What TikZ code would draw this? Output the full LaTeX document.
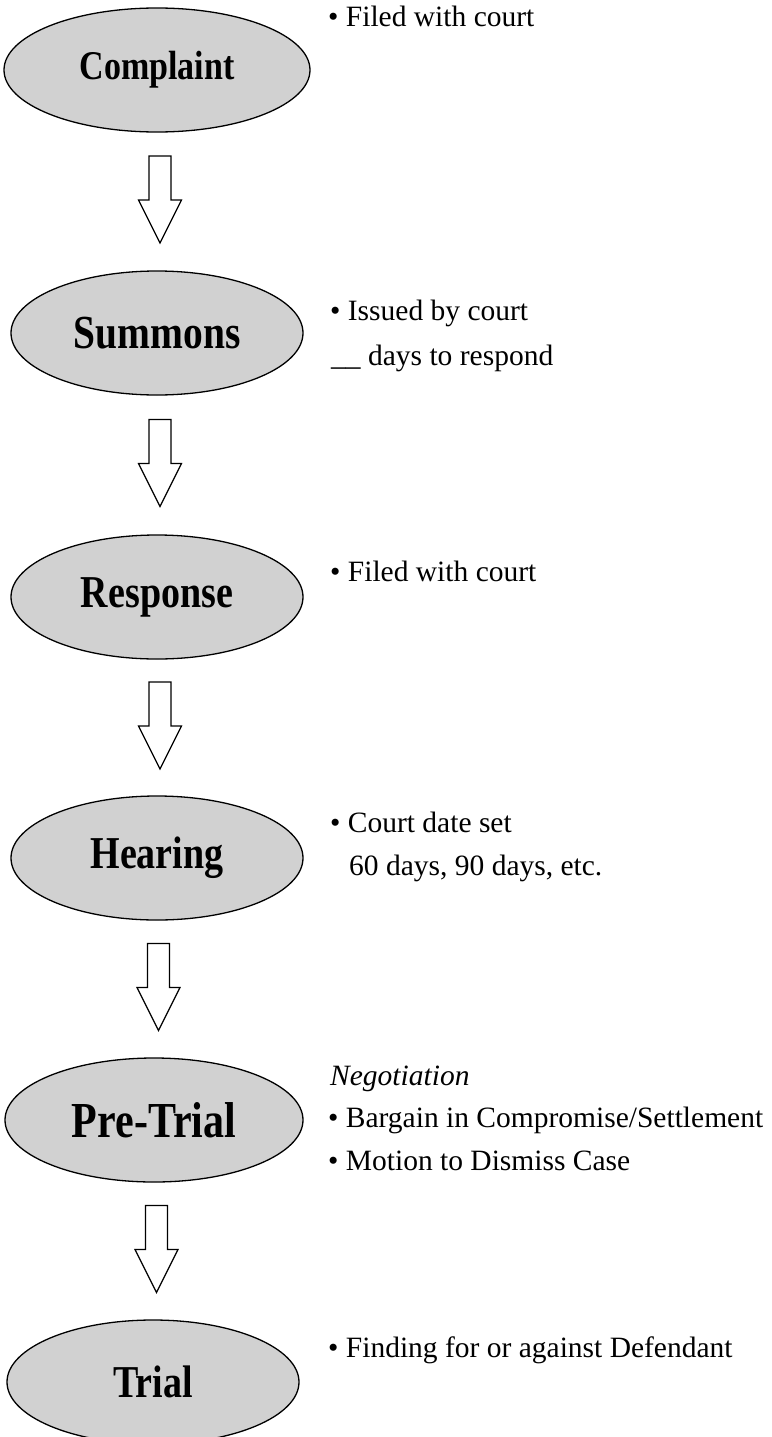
\documentclass[tikz,border=0pt]{standalone}
\usepackage{fontspec}
\usepackage{graphicx}
\setmainfont{Liberation Serif}
\usetikzlibrary{shapes.geometric,calc}
\newcommand\blockarrowat[1]{%
  \draw[blockarrow] ($(#1)+(-11,-43.5)$) -- ++(22,0) -- ++(0,44) -- ++(10.5,0)
    -- ($(#1)+(0,43.5)$) -- ($(#1)+(-21.5,0.5)$) -- ++(10.5,0) -- cycle;}
\newcommand\tallname[1]{\scalebox{1}[1.2]{#1}}
\begin{document}
\begin{tikzpicture}[x=1pt,y=-1pt,
  stage/.style={ellipse, draw=black, line width=1.3pt, fill=black!18,
    minimum width=292pt, minimum height=124pt, inner sep=0pt,
    font=\fontsize{38}{44}\selectfont\bfseries},
  note/.style={anchor=base west, inner sep=0pt, font=\fontsize{29.5}{34}\selectfont},
  blockarrow/.style={draw=black, line width=1.2pt, fill=white, line join=miter}]
\useasboundingbox (0,0) rectangle (771,1437);

\node[stage, minimum width=306pt, font=\fontsize{34}{40}\selectfont\bfseries]
                         (complaint) at (157,70)   {\tallname{Complaint}};
\node[stage, font=\fontsize{39.5}{46}\selectfont\bfseries]
                         (summons)   at (157,333)  {\tallname{Summons}};
\node[stage] (response)  at (157,597)  {\tallname{Response}};
\node[stage] (hearing)   at (157,858)  {\tallname{Hearing}};
\node[stage, minimum width=298pt, font=\fontsize{42}{48}\selectfont\bfseries]
                         (pretrial)  at (154,1120) {\tallname{Pre-Trial}};
\node[stage] (trial)     at (153,1382) {\tallname{Trial}};

\foreach \a/\b/\n in {complaint/summons/1, summons/response/2, response/hearing/3,
                      hearing/pretrial/4, pretrial/trial/5}{
  \coordinate (arr\n) at ($(\a.south)!0.5!(\b.north)+(3,-2)$);
  \blockarrowat{arr\n}
}

\node[note] (n1)  at (328,27)   {\textbullet\ Filed with court};
\node[note] (n2a) at (330,320)  {\textbullet\ Issued by court};
\node[note] (n2b) at (331,365)  {\_\_\ days to respond};
\node[note] (n3)  at (330,581)  {\textbullet\ Filed with court};
\node[note] (n4a) at (330,832)  {\textbullet\ Court date set};
\node[note] (n4b) at (349,875)  {60 days, 90 days, etc.};
\node[note] (n5a) at (330,1085) {\itshape Negotiation};
\node[note] (n5b) at (328,1127) {\textbullet\ Bargain in Compromise/Settlement};
\node[note] (n5c) at (328,1170) {\textbullet\ Motion to Dismiss Case};
\node[note] (n6)  at (328,1357) {\textbullet\ Finding for or against Defendant};
\end{tikzpicture}
\end{document}
